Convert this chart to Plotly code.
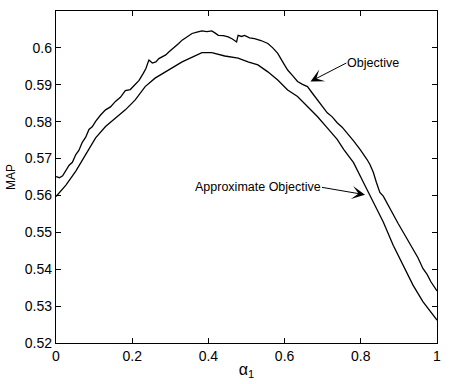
import plotly.graph_objects as go

# Objective (noisy) curve
obj_x = [0.0, 0.009, 0.0174, 0.026, 0.0345, 0.043, 0.052, 0.060, 0.069, 0.078, 0.0865, 0.095, 0.104, 0.117, 0.130,
         0.143, 0.156, 0.169, 0.182, 0.195, 0.208, 0.218, 0.229, 0.236, 0.242, 0.244, 0.253, 0.262, 0.270, 0.279,
         0.288, 0.296, 0.305, 0.314, 0.322, 0.331, 0.344, 0.357, 0.370, 0.383, 0.396, 0.409, 0.418, 0.426,
         0.439, 0.452, 0.463, 0.474, 0.476, 0.478, 0.487, 0.495, 0.508, 0.521, 0.538, 0.556, 0.569, 0.582,
         0.595, 0.608, 0.621, 0.634, 0.647, 0.660, 0.673, 0.686, 0.699, 0.712, 0.725, 0.738, 0.751, 0.764,
         0.781, 0.798, 0.807, 0.816, 0.824, 0.833, 0.841, 0.850, 0.859, 0.868, 0.876, 0.885, 0.898, 0.911,
         0.924, 0.937, 0.950, 0.963, 0.974, 0.984, 0.992, 1.0]
obj_y = [0.5651, 0.5648, 0.5653, 0.5668, 0.5682, 0.5690, 0.5711, 0.5722, 0.5744, 0.5758, 0.5779, 0.5786, 0.5801, 0.5818, 0.5832,
         0.5840, 0.5855, 0.5866, 0.5884, 0.5887, 0.5900, 0.5912, 0.5931, 0.5944, 0.5962, 0.5967, 0.5959, 0.5962, 0.5971, 0.5976,
         0.5981, 0.5989, 0.5997, 0.6003, 0.6012, 0.6021, 0.6029, 0.6039, 0.6043, 0.6046, 0.6044, 0.6046, 0.6040, 0.6034,
         0.6033, 0.6030, 0.6024, 0.6016, 0.6026, 0.6034, 0.6031, 0.6034, 0.6027, 0.6025, 0.6020, 0.6012, 0.6000, 0.5985,
         0.5962, 0.5940, 0.5925, 0.5909, 0.5901, 0.5895, 0.5877, 0.5859, 0.5843, 0.5824, 0.5813, 0.5797, 0.5785, 0.5770,
         0.5748, 0.5725, 0.5713, 0.5698, 0.5684, 0.5662, 0.5635, 0.5608, 0.5598, 0.5581, 0.5565, 0.5545, 0.5524, 0.5501,
         0.5478, 0.5456, 0.5431, 0.5402, 0.5386, 0.5366, 0.5352, 0.5341]

# Approximate objective (smooth) curve
apx_x = [0.0, 0.026, 0.052, 0.078, 0.104, 0.130, 0.156, 0.182, 0.208, 0.234, 0.260, 0.288, 0.331, 0.383, 0.409,
         0.443, 0.478, 0.504, 0.530, 0.556, 0.582, 0.608, 0.634, 0.660, 0.686, 0.712, 0.738, 0.755, 0.781,
         0.807, 0.833, 0.859, 0.885, 0.911, 0.937, 0.963, 1.0]
apx_y = [0.5597, 0.5628, 0.5666, 0.5711, 0.5756, 0.5787, 0.5810, 0.5832, 0.5859, 0.5895, 0.5918, 0.5935, 0.5962, 0.5987, 0.5987,
         0.5978, 0.5972, 0.5962, 0.5954, 0.5935, 0.5913, 0.5886, 0.5868, 0.5841, 0.5814, 0.5783, 0.5752, 0.5725, 0.5689,
         0.5635, 0.5581, 0.5528, 0.5465, 0.5411, 0.5357, 0.5312, 0.5262]

x_ticks = [0, 0.2, 0.4, 0.6, 0.8, 1.0]
x_tick_labels = ["0", "0.2", "0.4", "0.6", "0.8", "1"]
y_ticks = [0.52, 0.53, 0.54, 0.55, 0.56, 0.57, 0.58, 0.59, 0.60]
y_tick_labels = ["0.52", "0.53", "0.54", "0.55", "0.56", "0.57", "0.58", "0.59", "0.6"]

FONT = "Liberation Sans, Arial, sans-serif"

fig = go.Figure()
fig.add_trace(go.Scatter(x=obj_x, y=obj_y, mode="lines", line=dict(color="black", width=1.3),
                         name="Objective", showlegend=False))
fig.add_trace(go.Scatter(x=apx_x, y=apx_y, mode="lines", line=dict(color="black", width=1.3),
                         name="Approximate Objective", showlegend=False))

axis_common = dict(showgrid=False, zeroline=False, showline=True, linecolor="black", linewidth=1.3,
                   mirror="allticks", ticks="inside", ticklen=5, tickcolor="black", tickwidth=1,
                   tickfont=dict(family=FONT, size=14, color="black"))

fig.update_xaxes(range=[0, 1], tickvals=x_ticks, ticktext=x_tick_labels,
                 title=dict(text="α<sub>1</sub>", font=dict(family=FONT, size=16, color="black"), standoff=0),
                 **axis_common)
fig.update_yaxes(range=[0.52, 0.61], tickvals=y_ticks, ticktext=y_tick_labels,
                 title=dict(text="MAP", font=dict(family=FONT, size=12, color="black"), standoff=6),
                 **axis_common)

# Labelled arrows: text box anchored at the arrow tail
fig.add_annotation(x=0.668, y=0.5909, ax=0.762, ay=0.5959, xref="x", yref="y", axref="x", ayref="y",
                   text="Objective", showarrow=True, xanchor="left", yanchor="middle",
                   arrowhead=3, arrowsize=2.2, arrowwidth=1, arrowcolor="black",
                   borderpad=0, font=dict(family=FONT, size=12.5, color="black"))
fig.add_annotation(x=0.811, y=0.5602, ax=0.698, ay=0.5622, xref="x", yref="y", axref="x", ayref="y",
                   text="Approximate Objective", showarrow=True, xanchor="right", yanchor="middle",
                   arrowhead=3, arrowsize=2.2, arrowwidth=1, arrowcolor="black",
                   borderpad=0, font=dict(family=FONT, size=12.5, color="black"))

fig.update_layout(width=450, height=384, margin=dict(l=56, r=9, t=11, b=39),
                  plot_bgcolor="white", paper_bgcolor="white",
                  font=dict(family=FONT, color="black"))

fig.write_html("out.html")
